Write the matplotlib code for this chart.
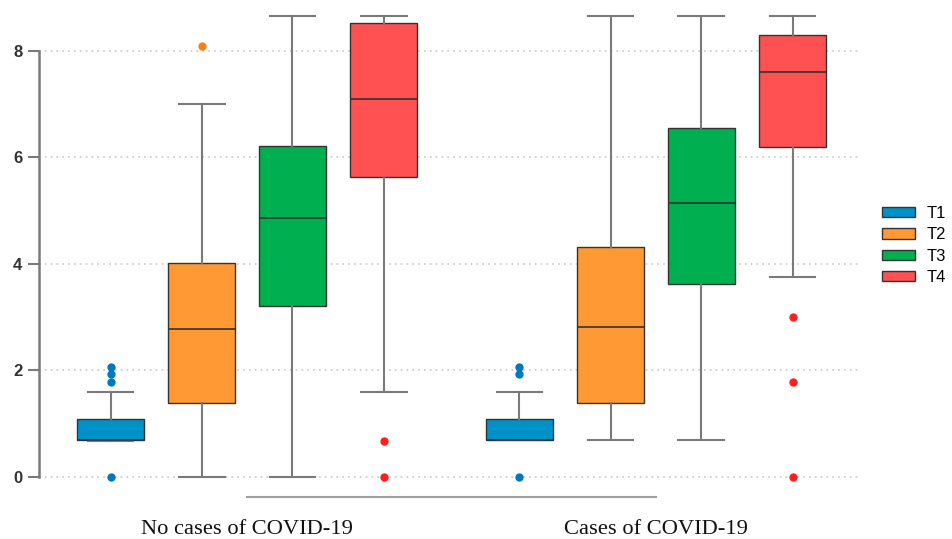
import numpy as np
import matplotlib
matplotlib.use("Agg")
import matplotlib.pyplot as plt
from matplotlib.patches import Patch

# Groups and series
groups = ["No cases of COVID-19", "Cases of COVID-19"]
series = ["T1", "T2", "T3", "T4"]
colors = ["#0091C9", "#FF9933", "#00B050", "#FF5052"]
flier_colors = ["#0079BF", "#FF7F0E", "#00A040", "#FF1F1F"]

# Box statistics, [group][series]
q1 = [[0.70, 1.38, 3.22, 5.63],
      [0.69, 1.38, 3.62, 6.19]]
med = [[0.70, 2.77, 4.86, 7.10],
       [0.69, 2.82, 5.15, 7.60]]
q3 = [[1.08, 4.02, 6.22, 8.52],
      [1.08, 4.32, 6.56, 8.30]]
whislo = [[0.68, 0.00, 0.00, 1.60],
          [0.69, 0.69, 0.69, 3.75]]
whishi = [[1.60, 7.00, 8.65, 8.65],
          [1.60, 8.65, 8.65, 8.65]]
fliers = [[[0.0, 1.78, 1.93, 2.07], [8.1], [], [0.0, 0.68]],
          [[0.0, 1.93, 2.07], [], [], [0.0, 1.78, 3.0]]]

offsets = [-0.334, -0.111, 0.111, 0.334]
box_w = 0.164
cap_w = 0.112

fig = plt.figure(figsize=(9.52, 5.39), dpi=100)
ax = fig.add_axes([39/952, 1 - 497/539, 821/952, 487/539])

for s in range(len(series)):
    stats = []
    pos = []
    for g in range(len(groups)):
        stats.append(dict(q1=q1[g][s], med=med[g][s], q3=q3[g][s],
                          whislo=whislo[g][s], whishi=whishi[g][s],
                          fliers=np.array(fliers[g][s])))
        pos.append(g + offsets[s])
    ax.bxp(stats, positions=pos, widths=box_w, capwidths=cap_w,
           patch_artist=True, showfliers=True,
           boxprops=dict(facecolor=colors[s], edgecolor="#333333", linewidth=1.0),
           medianprops=dict(color="#333333", linewidth=1.2),
           whiskerprops=dict(color="#7a7a7a", linewidth=1.5),
           capprops=dict(color="#7a7a7a", linewidth=1.5),
           flierprops=dict(marker="o", markerfacecolor=flier_colors[s],
                           markeredgecolor="none", markersize=6))

ax.set_xlim(-0.509, 1.499)
ax.set_ylim(-0.376, 8.77)
ax.set_yticks([0, 2, 4, 6, 8])
ax.set_xticks([0, 1])
ax.set_xticklabels(groups, family="Liberation Serif", fontsize=16.2, color="#111111")
ax.tick_params(axis="x", length=0, pad=16.5)
ax.tick_params(axis="y", length=8, width=1.5, color="#7a7a7a", labelsize=12,
               labelcolor="#333333", pad=4)
for lab in ax.get_yticklabels():
    lab.set_family("Liberation Sans")
    lab.set_fontweight("bold")

ax.yaxis.grid(True, linestyle=(0, (1, 2.5)), color="#c8c8c8", linewidth=1.2)
ax.set_axisbelow(True)
for sp in ["top", "right"]:
    ax.spines[sp].set_visible(False)
ax.spines["left"].set_bounds(0, 8)
ax.spines["bottom"].set_bounds(0, 1)
ax.spines["left"].set_color("#7a7a7a")
ax.spines["bottom"].set_color("#a0a0a0")
ax.spines["left"].set_linewidth(1.8)
ax.spines["bottom"].set_linewidth(1.5)

handles = [Patch(facecolor=c, edgecolor="#333333", linewidth=1.0) for c in colors]
fig.legend(handles, series, loc="upper left", bbox_to_anchor=(882/952, 1 - 206/539),
           frameon=False, handlelength=2.0, handleheight=0.6,
           labelspacing=0.38, handletextpad=0.7, borderpad=0, borderaxespad=0,
           prop=dict(family="Liberation Sans", size=12))

fig.savefig("out.png", dpi=100)
